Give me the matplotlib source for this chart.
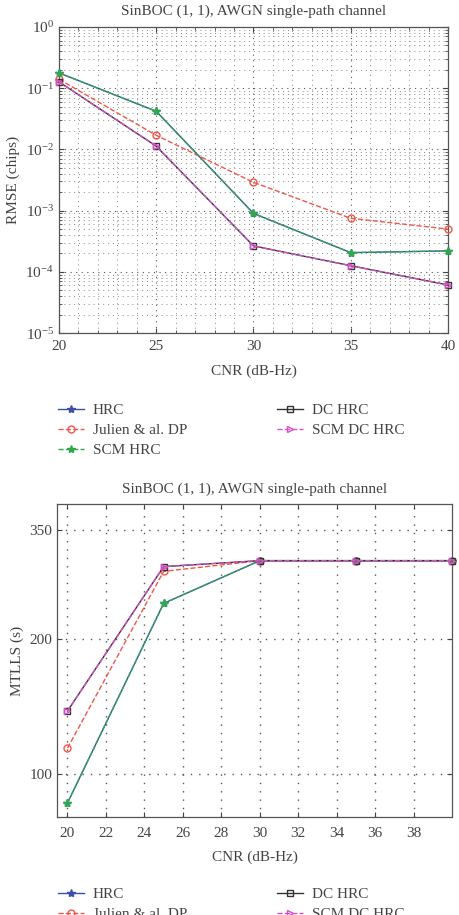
import numpy as np
import matplotlib
matplotlib.use("Agg")
import matplotlib.pyplot as plt
from matplotlib.ticker import LogLocator, MultipleLocator, FixedLocator, NullLocator, NullFormatter

plt.rcParams['font.family'] = ['Liberation Serif', 'DejaVu Serif']
plt.rcParams['mathtext.fontset'] = 'stix'
plt.rcParams['text.color'] = '#444444'
plt.rcParams['axes.labelcolor'] = '#444444'
plt.rcParams['xtick.color'] = '#444444'
plt.rcParams['ytick.color'] = '#444444'

TXT = '#444444'

# --- data ---
cnr = [20, 25, 30, 35, 40]

rmse_hrc = [0.178, 0.042, 9.0e-4, 2.06e-4, 2.2e-4]
rmse_julien = [0.14, 0.017, 2.9e-3, 7.5e-4, 5.0e-4]
rmse_scm_hrc = [0.178, 0.042, 9.0e-4, 2.06e-4, 2.2e-4]
rmse_dc_hrc = [0.127, 0.0113, 2.65e-4, 1.26e-4, 6.1e-5]
rmse_scm_dc_hrc = [0.127, 0.0113, 2.65e-4, 1.26e-4, 6.1e-5]

mtlls_hrc = [86, 240, 299, 299, 299]
mtlls_julien = [114, 283, 299, 299, 299]
mtlls_scm_hrc = [86, 240, 299, 299, 299]
mtlls_dc_hrc = [138, 290, 299, 299, 299]
mtlls_scm_dc_hrc = [138, 290, 299, 299, 299]

labels = ['HRC', 'Julien & al. DP', 'SCM HRC', 'DC HRC', 'SCM DC HRC']
colors = ['#3a4fa8', '#f0564a', '#2fa84f', '#333333', '#d84fc8']
styles = ['-', '--', '--', '-', '--']
markers = ['*', 'o', '*', 's', '>']
mfill = [True, False, True, False, False]

title = 'SinBOC (1, 1), AWGN single-path channel'
GRID_DASH = (0, (1, 4))

fig = plt.figure(figsize=(4.59, 9.15), dpi=100)
ax1 = fig.add_axes([0.1285, 0.636, 0.8475, 0.3345])
ax2 = fig.add_axes([0.124, 0.1071, 0.861, 0.342])


def draw(ax, series):
    hs = []
    for y, lab, c, ls, m, f in zip(series, labels, colors, styles, markers, mfill):
        h, = ax.plot(cnr, y, linestyle=ls, color=c, marker=m, markersize=6 if m == '*' else 5,
                     markerfacecolor=c if f else 'none', markeredgecolor=c, lw=1.0,
                     label=lab, clip_on=False, zorder=3)
        hs.append(h)
    for s in ax.spines.values():
        s.set_color('#555555')
        s.set_linewidth(0.9)
    ax.tick_params(which='both', direction='in', top=True, right=True, labelsize=11)
    return hs


# top: RMSE
hs = draw(ax1, [rmse_hrc, rmse_julien, rmse_scm_hrc, rmse_dc_hrc, rmse_scm_dc_hrc])
ax1.set_yscale('log')
ax1.set_xlim(20, 40)
ax1.set_ylim(1e-5, 1)
ax1.xaxis.set_major_locator(MultipleLocator(5))
ax1.xaxis.set_minor_locator(MultipleLocator(1))
ax1.yaxis.set_major_locator(LogLocator(base=10, numticks=10))
ax1.yaxis.set_minor_locator(LogLocator(base=10, subs=np.arange(2, 10), numticks=20))
ax1.yaxis.set_minor_formatter(NullFormatter())
ax1.grid(True, which='major', linestyle=GRID_DASH, color='#555555', lw=0.8)
ax1.grid(True, which='minor', linestyle=GRID_DASH, color='#888888', lw=0.7)
ax1.tick_params(which='minor', length=2)
ax1.tick_params(axis='x', pad=5)
ax1.set_xlabel('CNR (dB-Hz)', fontsize=11, labelpad=8)
ax1.set_ylabel('RMSE (chips)', fontsize=11)
ax1.set_title(title, fontsize=11, color=TXT, pad=9)

fig.legend(hs, labels, loc='upper left', bbox_to_anchor=(0.097, 0.574), ncol=2,
           frameon=False, fontsize=11, handlelength=1.7, columnspacing=5.9,
           labelspacing=0.42, handletextpad=0.55)

# bottom: MTLLS
hs2 = draw(ax2, [mtlls_hrc, mtlls_julien, mtlls_scm_hrc, mtlls_dc_hrc, mtlls_scm_dc_hrc])
ax2.set_yscale('log')
ax2.set_xlim(19.45, 40)
ax2.set_ylim(80, 400)
ax2.xaxis.set_major_locator(FixedLocator(np.arange(20, 40, 2)))
ax2.yaxis.set_major_locator(FixedLocator([100, 200, 350]))
ax2.yaxis.set_major_formatter(matplotlib.ticker.FixedFormatter(['100', '200', '350']))
ax2.yaxis.set_minor_locator(NullLocator())
ax2.grid(True, which='major', linestyle=(0, (1, 5)), color='#555555', lw=1.0)
ax2.tick_params(axis='x', pad=7)
ax2.set_xlabel('CNR (dB-Hz)', fontsize=11, labelpad=8)
ax2.set_ylabel('MTLLS (s)', fontsize=11)
ax2.set_title(title, fontsize=11, color=TXT, pad=8)

fig.legend(hs2, labels, loc='upper left', bbox_to_anchor=(0.097, 0.045), ncol=2,
           frameon=False, fontsize=11, handlelength=1.7, columnspacing=5.9,
           labelspacing=0.42, handletextpad=0.55)

fig.savefig('out.png', dpi=100)
